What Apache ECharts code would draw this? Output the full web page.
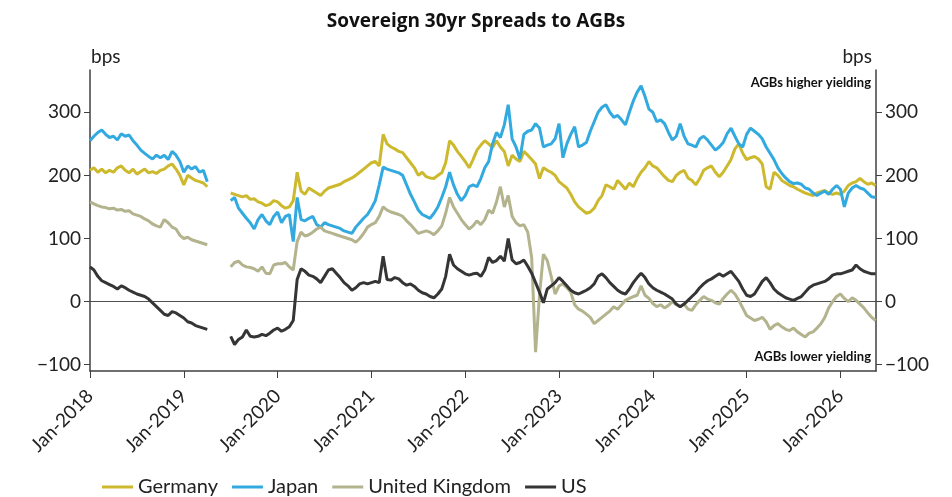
<!DOCTYPE html>
<html style="height: 100%">
  <head>
    <meta charset="UTF-8">
  </head>
  <body style="height: 100%; margin: 0; background: #fff">
    <div id="container" style="width: 952px; height: 497px"></div>
    <script src="https://cdn.jsdelivr.net/npm/echarts@6/dist/echarts.min.js"></script>
    <script>
    // half-month steps from Jan-2018 (index 0) to mid-May 2026 (index 201)
    var tickLabels = ['Jan-2018','Jan-2019','Jan-2020','Jan-2021','Jan-2022','Jan-2023','Jan-2024','Jan-2025','Jan-2026'];
    var seriesNames = ['Germany', 'Japan', 'United Kingdom', 'US'];

    var germany = [
      208,212,205,210,204,208,205,212,215,208,204,210,202,206,210,204,206,203,208,210,215,218,210,200,
      185,200,196,192,190,188,182,null,null,null,null,null,172,170,168,166,168,162,163,158,156,152,154,160,
      158,152,148,150,160,205,175,170,180,176,172,168,175,180,182,184,186,190,193,196,200,205,210,215,
      220,222,215,265,250,245,242,238,236,228,220,212,200,205,198,196,195,200,204,220,255,248,238,230,
      222,212,225,240,248,255,250,244,255,245,238,215,232,226,222,238,232,225,218,195,212,208,205,200,
      190,185,180,170,158,150,145,140,142,148,160,168,185,182,178,192,185,178,188,182,195,205,212,222,
      215,212,205,198,192,190,200,205,208,196,192,185,195,208,212,215,205,198,205,215,225,242,250,235,
      225,228,230,226,218,182,178,205,200,192,188,184,182,178,175,172,170,168,172,174,176,172,170,172,
      170,175,184,188,190,195,190,186,188,184
    ];
    var japan = [
      255,262,268,272,265,260,262,256,266,262,264,255,248,240,235,230,226,232,228,232,225,238,232,222,
      205,215,210,214,205,208,190,null,null,null,null,null,160,165,148,140,132,125,115,130,138,128,122,135,
      142,125,135,138,95,165,130,128,132,135,122,118,125,122,120,118,116,112,110,108,118,125,132,138,
      148,160,185,213,210,208,206,204,200,185,170,158,145,138,135,132,140,150,165,182,205,185,170,160,
      168,182,185,182,195,212,222,250,268,260,280,312,258,245,226,265,270,272,282,275,245,248,250,258,
      282,228,250,265,277,245,248,252,270,285,300,308,312,300,292,295,288,280,300,318,332,342,325,305,
      300,285,288,282,268,256,262,282,262,250,248,245,258,262,256,248,240,245,252,266,275,262,250,245,
      265,275,270,265,258,245,235,225,212,203,196,190,187,188,186,180,178,172,168,172,175,170,178,184,
      178,150,172,180,184,180,178,172,166,165
    ];
    var uk = [
      158,155,152,150,149,147,148,145,146,143,144,139,137,135,131,128,123,120,118,130,125,118,115,105,
      100,102,98,96,94,92,90,null,null,null,null,null,55,62,64,58,55,54,52,48,55,45,44,58,
      60,60,62,55,50,95,110,104,106,110,115,118,112,110,108,106,104,102,100,98,94,100,108,118,
      122,125,135,150,145,142,140,138,135,128,122,115,108,110,112,110,106,112,120,140,165,150,140,130,
      122,115,120,128,122,130,145,140,158,182,150,168,135,125,120,122,110,70,-80,10,75,65,40,12,
      25,28,22,15,-5,-12,-15,-20,-25,-35,-30,-25,-20,-15,-8,-12,-5,2,5,8,10,25,10,5,
      -3,-8,-5,-10,-6,0,-5,-8,-4,-12,-14,-5,2,8,4,2,-2,-4,5,12,18,12,2,-10,
      -22,-26,-30,-28,-25,-32,-44,-38,-35,-40,-44,-46,-42,-48,-52,-56,-50,-48,-42,-35,-25,-10,0,8,
      12,5,0,6,2,-4,-10,-18,-25,-30
    ];
    var us = [
      55,50,40,33,30,27,24,20,25,22,18,15,12,10,8,4,-2,-8,-14,-20,-22,-16,-18,-22,
      -26,-32,-34,-38,-40,-42,-44,null,null,null,null,null,-55,-68,-60,-56,-45,-55,-56,-55,-52,-54,-50,-45,
      -42,-47,-44,-40,-30,35,52,48,42,40,36,30,40,50,52,45,38,30,25,18,22,28,30,28,
      30,32,30,72,35,34,38,36,30,26,28,24,18,14,12,8,6,12,20,40,75,58,52,48,
      44,42,44,45,40,50,70,62,65,72,64,100,66,60,62,66,56,45,30,15,-2,20,25,30,
      38,32,25,18,14,12,15,18,22,28,40,44,38,30,24,18,14,12,20,30,38,45,38,28,
      22,18,15,12,8,4,-4,-8,-4,2,8,14,22,28,33,36,40,44,40,44,48,40,32,20,
      10,8,12,22,32,38,30,20,14,10,6,4,2,5,8,15,22,26,28,30,32,36,42,44,
      44,46,48,50,58,52,48,46,44,44
    ];
    var yTicks = [-100, 0, 100, 200, 300];

    var colors = ['#CDB92E', '#33AADF', '#B3B38E', '#353535'];
    var font = 'Lato, "Open Sans", sans-serif';

    function toPairs(arr) {
      return arr.map(function (v, i) { return [i, v]; });
    }
    var xTicks = tickLabels.map(function (t, i) { return i * 24; });

    var myChart = echarts.init(document.getElementById('container'), null, { renderer: 'canvas' });

    var yAxisBase = {
      type: 'value',
      min: -110,
      max: 367,
      splitLine: { show: false },
      axisLine: { show: true, lineStyle: { color: '#404040', width: 1.5 } },
      axisTick: { show: true, length: 6, customValues: yTicks, lineStyle: { color: '#404040' } },
      axisLabel: {
        customValues: yTicks, color: '#222', fontFamily: font, fontSize: 19, margin: 9,
        formatter: function (v) { return v < 0 ? '\u2212' + Math.abs(v) : String(v); }
      }
    };

    var series = [germany, japan, uk, us].map(function (arr, k) {
      return {
        name: seriesNames[k],
        type: 'line',
        data: toPairs(arr),
        showSymbol: false,
        connectNulls: false,
        lineStyle: { width: 3, color: colors[k] },
        itemStyle: { color: colors[k] },
        z: 3 + k
      };
    });
    series[0].markLine = {
      silent: true,
      symbol: 'none',
      label: { show: false },
      lineStyle: { color: '#505050', width: 1, type: 'solid' },
      data: [{ yAxis: 0 }],
      z: 1
    };

    var option = {
      animation: false,
      color: colors,
      title: {
        text: 'Sovereign 30yr Spreads to AGBs',
        left: 'center',
        top: 7,
        textStyle: { fontFamily: '"Open Sans", sans-serif', fontSize: 19, fontWeight: 'bold', color: '#111' }
      },
      legend: {
        left: 97,
        top: 472,
        icon: 'rect',
        itemWidth: 31,
        itemHeight: 3,
        itemGap: 14,
        textStyle: { fontFamily: font, fontSize: 20, color: '#222' },
        data: seriesNames
      },
      grid: { left: 90, right: 76, top: 70, bottom: 126 },
      xAxis: {
        type: 'value',
        min: 0,
        max: 201.1,
        splitLine: { show: false },
        axisLine: { onZero: false, lineStyle: { color: '#404040', width: 1.5 } },
        axisTick: { length: 7, customValues: xTicks, lineStyle: { color: '#404040' } },
        axisLabel: {
          customValues: xTicks, rotate: 45, color: '#222', fontFamily: font, fontSize: 19, margin: 22,
          formatter: function (v) { return tickLabels[Math.round(v / 24)]; }
        }
      },
      yAxis: [
        Object.assign({}, yAxisBase, { position: 'left' }),
        Object.assign({}, yAxisBase, { position: 'right' })
      ],
      graphic: [
        { type: 'text', left: 91, top: 47, style: { text: 'bps', font: '19px Lato', fill: '#222' } },
        { type: 'text', right: 80, top: 47, style: { text: 'bps', font: '19px Lato', fill: '#222' } },
        { type: 'text', right: 81, top: 76, style: { text: 'AGBs higher yielding', font: 'bold 13px Lato', fill: '#111' } },
        { type: 'text', right: 81, top: 350, style: { text: 'AGBs lower yielding', font: 'bold 13px Lato', fill: '#111' } }
      ],
      series: series
    };

    myChart.setOption(option);
    window.addEventListener('resize', myChart.resize);
    </script>
  </body>
</html>
